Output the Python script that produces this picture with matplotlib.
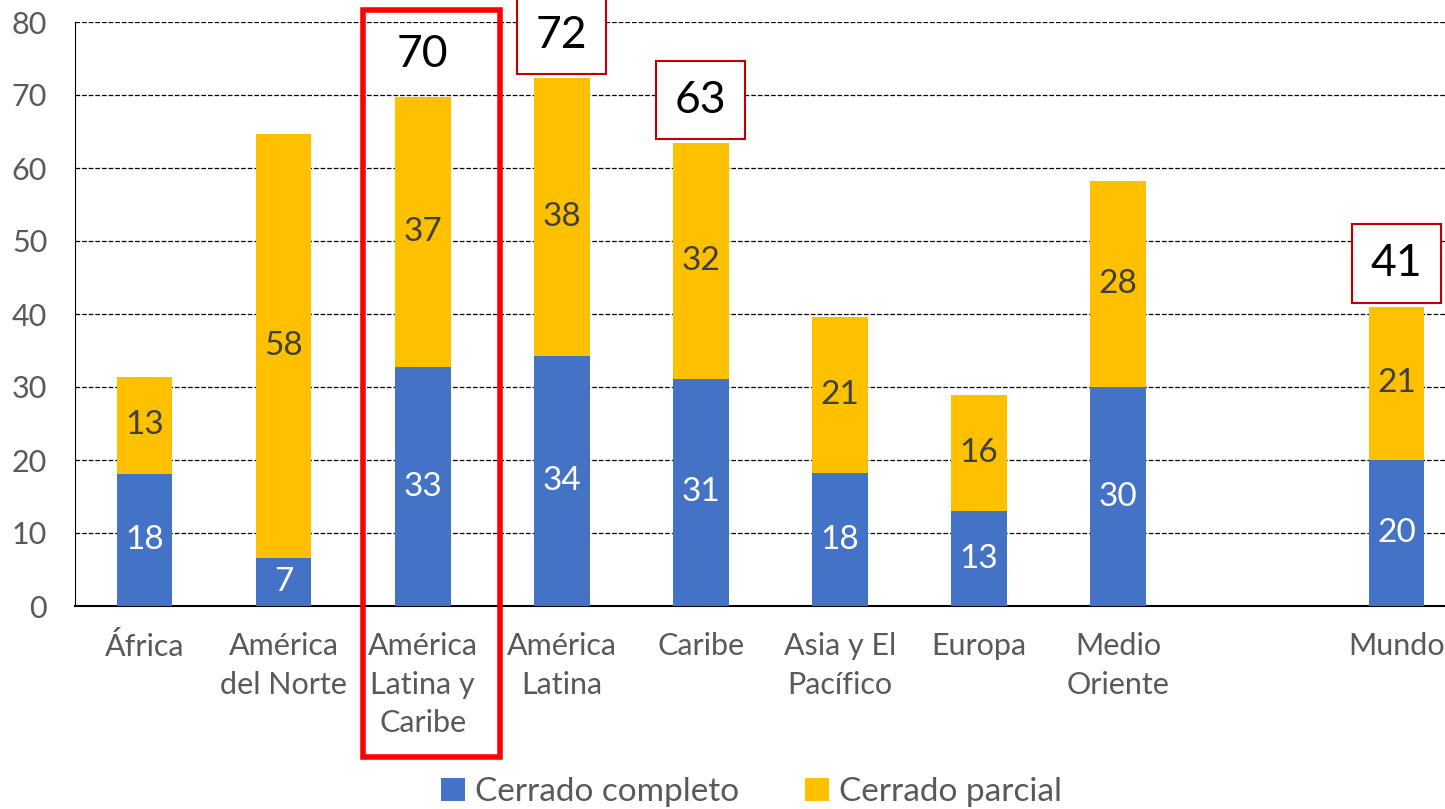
import numpy as np
import matplotlib
matplotlib.use('Agg')
import matplotlib.pyplot as plt
from matplotlib.patches import Rectangle

plt.rcParams['font.family'] = ['Lato', 'DejaVu Sans']

regiones = ['África', 'América\ndel Norte', 'América\nLatina y\nCaribe', 'América\nLatina',
            'Caribe', 'Asia y El\nPacífico', 'Europa', 'Medio\nOriente', 'Mundo']
completo = [18.1, 6.6, 32.7, 34.2, 31.1, 18.2, 13.0, 30.0, 20.0]
parcial = [13.3, 58.0, 37.0, 38.1, 32.3, 21.4, 15.9, 28.2, 21.0]
totales_marcados = {2: 70, 3: 72, 4: 63, 8: 41}   # indice -> total destacado
con_caja = [3, 4, 8]

azul = '#4472C4'
naranja = '#FFC000'
gris = '#595959'

# hueco entre Medio Oriente y Mundo
x = np.array(list(range(8)) + [9])
tot = np.array(completo) + np.array(parcial)

fig = plt.figure(figsize=(14.45, 8.09), dpi=100)
ax = fig.add_axes([75/1445, 1 - 606/809, 1 - 75/1445, (606 - 22)/809])

b1 = ax.bar(x, completo, width=0.4, color=azul, label='Cerrado completo', zorder=3)
b2 = ax.bar(x, parcial, width=0.4, bottom=completo, color=naranja, label='Cerrado parcial', zorder=3)

for i in range(len(x)):
    ax.text(x[i], completo[i] / 2, '{:.0f}'.format(completo[i]), ha='center', va='center',
            color='white', fontsize=24, zorder=4)
    ax.text(x[i], completo[i] + parcial[i] / 2, '{:.0f}'.format(parcial[i]), ha='center', va='center',
            color='#404040', fontsize=24, zorder=4)

for i, v in totales_marcados.items():
    kw = {}
    if i in con_caja:
        kw['bbox'] = dict(boxstyle='square,pad=0.42', fc='white', ec='#C00000', lw=1.5)
    ax.annotate(str(v), (x[i], tot[i]), xytext=(0, 31), textcoords='offset points',
                ha='center', va='center', fontsize=32, color='black', zorder=5,
                annotation_clip=False, **kw)

# recuadro rojo alrededor de America Latina y Caribe
ax.add_patch(Rectangle((1.57, -20.7), 0.985, 102.3, fill=False, ec='#FF0000', lw=4,
                       clip_on=False, zorder=6))

ax.set_ylim(0, 80)
ax.set_xlim(-0.5, 9.35)
ax.set_yticks(range(0, 81, 10))
ax.set_xticks(x)
ax.set_xticklabels(regiones, linespacing=1.45)
ax.tick_params(axis='both', length=0, labelsize=22, colors=gris)
ax.tick_params(axis='y', pad=20)
ax.tick_params(axis='x', pad=19)
ax.yaxis.grid(True, linestyle='--', color='black', linewidth=0.9, zorder=0)
ax.set_axisbelow(True)
for s in ['top', 'right']:
    ax.spines[s].set_visible(False)
ax.spines['left'].set_color('black')
ax.spines['bottom'].set_color('black')
ax.spines['bottom'].set_linewidth(1.5)

fig.legend(handles=[b1, b2], loc='lower center', bbox_to_anchor=(0.52, -0.035), ncol=2,
           frameon=False, fontsize=24, handlelength=0.7, handleheight=0.7, handletextpad=0.3,
           columnspacing=2.0, labelcolor=gris)

fig.savefig('out.png', dpi=100)
